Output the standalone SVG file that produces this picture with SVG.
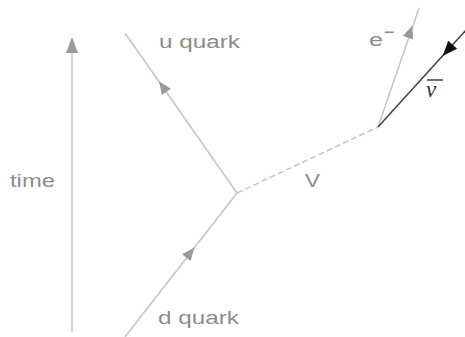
<svg xmlns="http://www.w3.org/2000/svg" width="465" height="337" viewBox="0 0 465 337">
<style>
.ln{stroke:#c4c4c4;stroke-width:1.5;fill:none}
.ah{fill:#9a9a9a}
.lbl{font-family:"Liberation Sans",Arial,sans-serif;font-size:18px;fill:#8c8c8c}
</style>
<rect width="465" height="337" fill="#fff"/>
<g id="time-axis">
<line class="ln" x1="72" y1="52" x2="72" y2="332" stroke-width="2"/>
<polygon class="ah" points="72,37 66,53 78,53"/>
<text class="lbl" x="10" y="187" textLength="45" lengthAdjust="spacingAndGlyphs">time</text>
</g>
<g id="connectors">
<line id="u-line" class="ln" x1="237" y1="193" x2="125" y2="33"/>
<line id="d-line" class="ln" x1="237" y1="193" x2="125" y2="337"/>
<line id="v-line" class="ln" x1="237" y1="193" x2="378" y2="127" stroke-dasharray="6 3"/>
<line id="e-line" class="ln" x1="378" y1="127" x2="419" y2="8"/>
<line id="nu-line" x1="378" y1="127" x2="466" y2="30" stroke="#444" stroke-width="1.6"/>
<path class="ah" d="M7,0 L-6,-5.5 L-6,5.5 Z" transform="translate(163,87) rotate(-125)"/>
<path class="ah" d="M7,0 L-6,-5.5 L-6,5.5 Z" transform="translate(190,253) rotate(-52)"/>
<path class="ah" d="M7,0 L-6,-5.5 L-6,5.5 Z" transform="translate(410,32) rotate(-71)"/>
<path fill="#111" d="M8,0 L-7,-6 L-7,6 Z" transform="translate(448,50) rotate(132)"/>
</g>
<g id="u-quark">
<text class="lbl" x="159" y="48" textLength="81" lengthAdjust="spacingAndGlyphs">u quark</text>
</g>
<g id="d-quark">
<text class="lbl" x="158" y="324" textLength="81" lengthAdjust="spacingAndGlyphs">d quark</text>
</g>
<g id="v-boson">
<text class="lbl" x="305" y="187" textLength="15" lengthAdjust="spacingAndGlyphs">V</text>
</g>
<g id="electron">
<text class="lbl" x="369" y="46" font-size="19" textLength="14" lengthAdjust="spacingAndGlyphs">e</text>
<text class="lbl" x="384" y="38" font-size="12">−</text>
</g>
<g id="antineutrino">
<text x="426" y="97" font-family="'Liberation Serif','Times New Roman',serif" font-style="italic" font-size="23" fill="#333">ν</text>
<line x1="427" y1="80" x2="443" y2="80" stroke="#333" stroke-width="1.4"/>
</g>
</svg>
